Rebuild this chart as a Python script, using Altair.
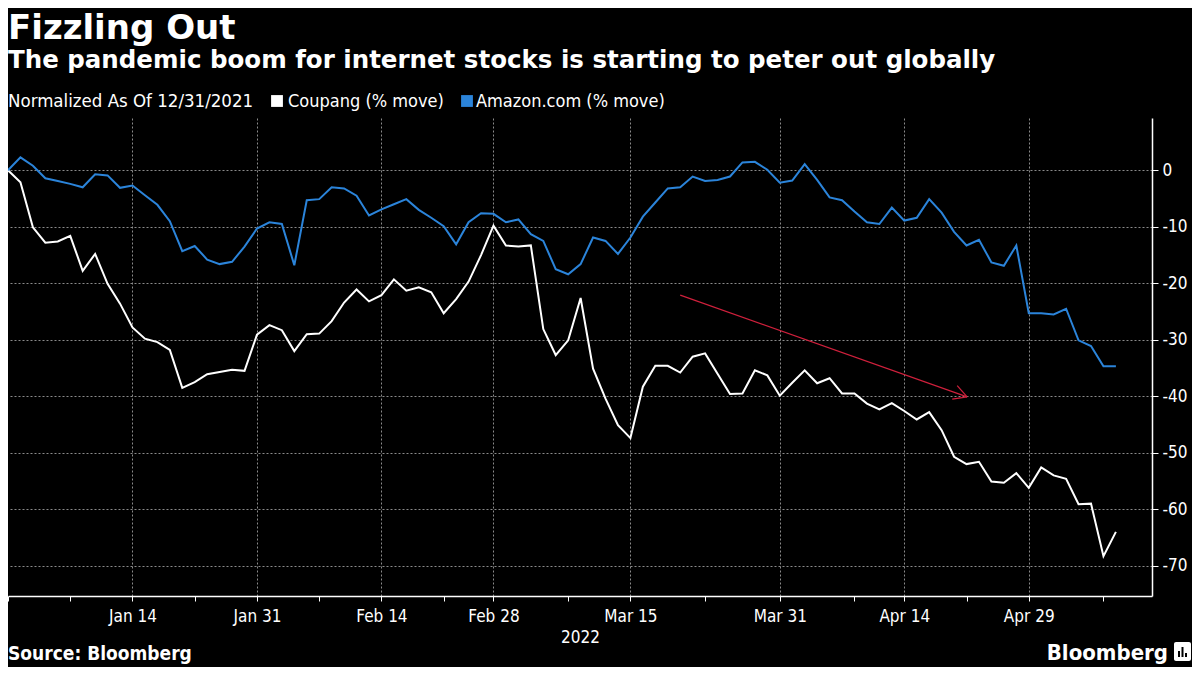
import altair as alt
import pandas as pd

# ---- data (trading-day index 0 = 2021-12-31, 89 = 2022-05-10) ----
day_index = list(range(90))

coupang = [0, -2.1, -10.1, -12.8, -12.6, -11.6, -17.8, -14.8, -20.1, -23.6,
           -27.8, -29.8, -30.4, -31.8, -38.5, -37.5, -36.1, -35.7, -35.3, -35.5,
           -29.1, -27.4, -28.3, -32.0, -29.0, -28.9, -26.7, -23.4, -21.1, -23.2,
           -22.1, -19.3, -21.3, -20.7, -21.6, -25.3, -22.8, -19.7, -15.0, -9.8,
           -13.3, -13.5, -13.3, -28.1, -32.7, -30.1, -22.6, -35.1, -40.4, -45.1,
           -47.4, -38.3, -34.6, -34.6, -35.8, -33.0, -32.4, -36.0, -39.6, -39.5,
           -35.4, -36.3, -39.9, -37.6, -35.4, -37.7, -36.8, -39.5, -39.5, -41.3,
           -42.3, -41.2, -42.6, -44.1, -42.8, -46.0, -50.7, -52.0, -51.6, -55.1,
           -55.3, -53.6, -56.2, -52.6, -54.0, -54.6, -59.1, -59.0, -68.3, -64.0]

amazon = [0, 2.3, 0.8, -1.4, -1.9, -2.4, -3.0, -0.7, -0.9, -3.1,
          -2.7, -4.4, -6.1, -9.0, -14.3, -13.4, -15.8, -16.6, -16.2, -13.5,
          -10.3, -9.2, -9.5, -16.8, -5.3, -5.1, -3.0, -3.2, -4.5, -8.0,
          -6.9, -6.0, -5.1, -7.0, -8.4, -9.9, -13.1, -9.2, -7.6, -7.7,
          -9.2, -8.7, -11.3, -12.5, -17.5, -18.4, -16.6, -11.9, -12.5, -14.8,
          -11.9, -8.2, -5.7, -3.2, -3.0, -1.1, -1.9, -1.7, -1.1, 1.4,
          1.5, 0.1, -2.2, -1.8, 1.1, -1.7, -4.8, -5.3, -7.3, -9.2,
          -9.5, -6.6, -8.9, -8.4, -5.1, -7.5, -10.9, -13.3, -12.3, -16.3,
          -16.9, -13.3, -25.3, -25.3, -25.5, -24.5, -30.1, -31.1, -34.7, -34.7]

series_names = ["Coupang (% move)", "Amazon.com (% move)"]
series_colors = ["#ffffff", "#2b84da"]

x_major = [10, 20, 30, 39, 50, 62, 72, 82]
x_major_labels = ["Jan 14", "Jan 31", "Feb 14", "Feb 28", "Mar 15", "Mar 31", "Apr 14", "Apr 29"]
x_minor = [0, 5, 15, 25, 35, 45, 56, 68, 77, 88]
y_ticks = [-70, -65, -60, -55, -50, -45, -40, -35, -30, -25, -20, -15, -10, -5, 0, 5]

# red trend arrow (data units): shaft + two barbs
arrow_x = [54.0, 77.05, 77.05]
arrow_y = [-22.1, -40.1, -40.1]
arrow_x2 = [77.05, 76.25, 75.85]
arrow_y2 = [-40.1, -38.1, -40.5]

# ---- build tables ----
df = pd.DataFrame({
    "idx": day_index * 2,
    "value": coupang + amazon,
    "series": [series_names[0]] * 90 + [series_names[1]] * 90,
})
arrow_df = pd.DataFrame({"idx": arrow_x, "value": arrow_y, "idx2": arrow_x2, "value2": arrow_y2})

W, H = 1144, 478
xs = alt.Scale(domain=[0, 91.9], nice=False, zero=False)
ys = alt.Scale(domain=[-75.35, 9.26], nice=False, zero=False)

tick_font = "DejaVu Sans Condensed"
label_expr = " : ".join(f"datum.value == {v} ? '{l}'" for v, l in zip(x_major, x_major_labels)) + " : ''"
major_test = "indexof([" + ",".join(str(v) for v in x_major) + "], datum.value) >= 0"

x_axis = alt.Axis(
    values=sorted(x_major + x_minor), labelExpr=label_expr,
    grid=True, gridColor="#8a8a8a", gridDash=[2, 2], gridWidth=1,
    gridOpacity={"condition": {"test": major_test, "value": 1}, "value": 0},
    domainColor="#ffffff", domainWidth=1.5, tickColor="#ffffff", tickSize=5,
    labelColor="#ffffff", labelFont=tick_font, labelFontSize=17, labelPadding=7,
    labelFlush=False,
    title="2022", titleColor="#ffffff", titleFont=tick_font, titleFontSize=17,
    titleFontWeight="normal", titlePadding=5,
)
y_axis = alt.Axis(
    orient="right", values=y_ticks,
    labelExpr="datum.value % 10 == 0 ? '' + datum.value : ''",
    grid=True, gridColor="#8a8a8a", gridDash=[2, 2], gridWidth=1,
    gridOpacity={"condition": {"test": "datum.value % 10 == 0 && datum.value <= 0", "value": 1}, "value": 0},
    domainColor="#ffffff", domainWidth=1.5, tickColor="#ffffff", tickSize=6,
    labelColor="#ffffff", labelFont=tick_font, labelFontSize=17, labelPadding=4,
    labelBaseline="middle", title=None,
)

lines = alt.Chart(df).mark_line(strokeWidth=2).encode(
    x=alt.X("idx:Q", scale=xs, axis=x_axis),
    y=alt.Y("value:Q", scale=ys, axis=y_axis),
    color=alt.Color("series:N", scale=alt.Scale(domain=series_names, range=series_colors), legend=None),
    detail="series:N",
)

arrow = alt.Chart(arrow_df).mark_rule(color="#d0203c", strokeWidth=1.2).encode(
    x=alt.X("idx:Q", scale=xs), y=alt.Y("value:Q", scale=ys),
    x2="idx2:Q", y2="value2:Q",
)


def text_layer(txt, x, y, size, weight="normal", font=tick_font, align="left", color="#ffffff"):
    return alt.Chart(alt.Data(values=[{"t": txt}])).mark_text(
        align=align, baseline="alphabetic", fontSize=size, fontWeight=weight,
        font=font, color=color,
    ).encode(text="t:N", x=alt.value(x), y=alt.value(y))


def square_layer(x, y, color, size=140):
    return alt.Chart(alt.Data(values=[{}])).mark_square(size=size, color=color, opacity=1).encode(
        x=alt.value(x), y=alt.value(y))


def rect_layer(x, x2, y, y2, color, radius=0):
    return alt.Chart(alt.Data(values=[{}])).mark_rect(color=color, cornerRadius=radius).encode(
        x=alt.value(x), x2=alt.value(x2), y=alt.value(y), y2=alt.value(y2))


title = text_layer("Fizzling Out", 0, -79, 34, "bold", "DejaVu Sans")
subtitle = text_layer("The pandemic boom for internet stocks is starting to peter out globally",
                      0, -50, 24.5, "bold", "DejaVu Sans")
legend_title = text_layer("Normalized As Of 12/31/2021", 0, -11, 18.5)
leg_sq1 = square_layer(269, -17, series_colors[0])
leg_txt1 = text_layer(series_names[0], 280, -11, 18)
leg_sq2 = square_layer(459, -17, series_colors[1])
leg_txt2 = text_layer(series_names[1], 468, -11, 18)
source = text_layer("Source: Bloomberg", 0, 542, 19, "bold", "DejaVu Sans Condensed")
logo = text_layer("Bloomberg", 1160, 542, 22, "bold", "DejaVu Sans Condensed", align="right")
logo_box = rect_layer(1166, 1183, 524, 543, "#ffffff", 2)
logo_bar1 = rect_layer(1170, 1172, 533, 539, "#000000")
logo_bar2 = rect_layer(1173.5, 1175.5, 529, 539, "#000000")
logo_bar3 = rect_layer(1177, 1179, 535, 539, "#000000")

chart = alt.layer(
    lines, arrow, title, subtitle, legend_title, leg_sq1, leg_txt1, leg_sq2, leg_txt2,
    source, logo, logo_box, logo_bar1, logo_bar2, logo_bar3,
).properties(
    width=W, height=H,
    autosize=alt.AutoSizeParams(type="none"),
    padding={"left": 0, "top": 110, "right": 40, "bottom": 71},
    background="#000000",
).configure_view(stroke=None)

chart.save("out.html", embed_options={"renderer": "svg", "actions": False})
